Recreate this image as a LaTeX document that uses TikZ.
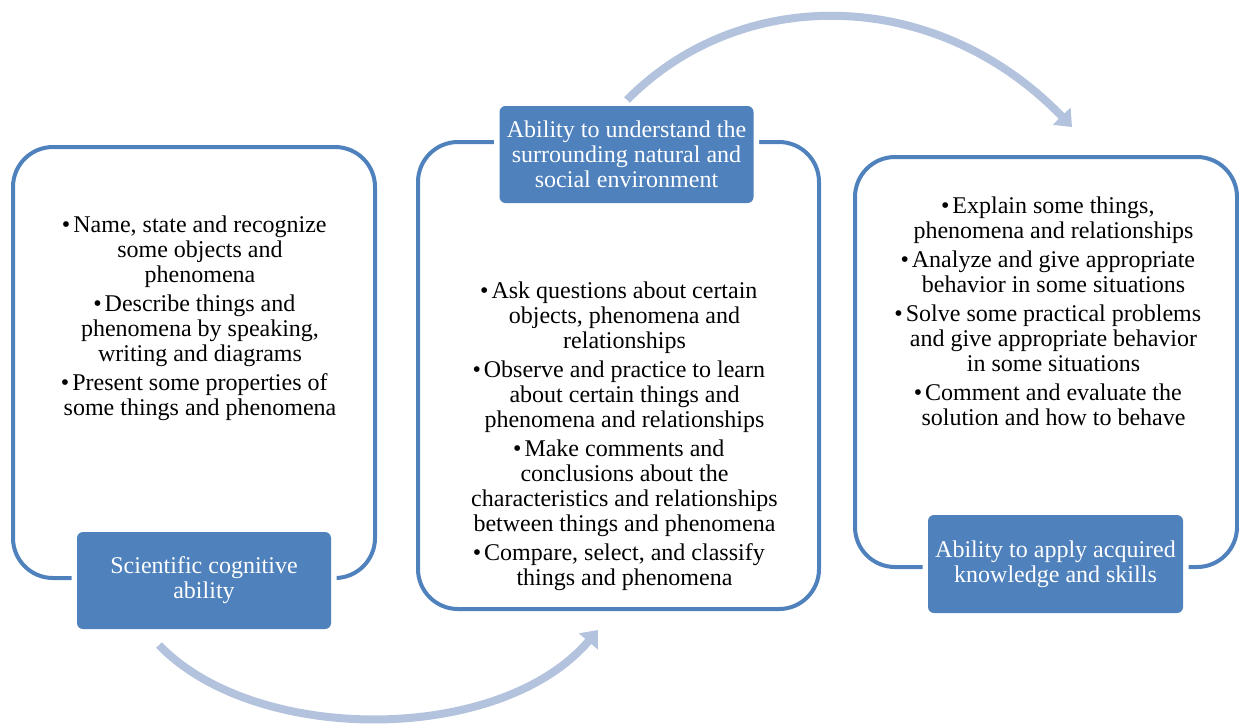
\documentclass[tikz,border=0pt]{standalone}
\usepackage{fontspec}
\setmainfont{Liberation Serif}
\usetikzlibrary{arrows.meta}

\definecolor{accent}{HTML}{4F81BD}
\definecolor{flowblue}{HTML}{B3C3DE}

\newcommand{\itm}{\llap{•\hspace{3pt}}}

\begin{document}
\begin{tikzpicture}[x=1pt,y=-1pt,
  panel/.style={draw=accent, line width=4pt, rounded corners=40pt, inner sep=0pt},
  caption/.style={fill=accent, rounded corners=6pt, text=white, align=center,
    inner sep=0pt, minimum width=254pt, minimum height=97pt,
    font=\fontsize{24}{25}\selectfont,
    preaction={draw=white, line width=11pt}},
  body/.style={anchor=north, align=center, inner sep=0pt,
    font=\fontsize{24}{25}\selectfont},
  flow/.style={draw=flowblue, line width=8pt,
    -{Triangle[width=24pt,length=15pt]}}]

\useasboundingbox (0,0) rectangle (1239,724);

% outlined panels
\node[panel, minimum width=362pt, minimum height=431pt] (p1) at (194,362.5) {};
\node[panel, minimum width=401pt, minimum height=467pt] (p2) at (618.5,375.5) {};
\node[panel, minimum width=382pt, minimum height=410pt] (p3) at (1046,362) {};

% panel contents
\node[body] (t1) at (200,214) {\rule{0pt}{18pt}\itm Name, state and recognize\\
  some objects and\\ phenomena\\[4pt]
  \itm Describe things and\\ phenomena by speaking,\\ writing and diagrams\\[4pt]
  \itm Present some properties of\\ some things and phenomena};

\node[body] (t2) at (624.5,280) {\rule{0pt}{18pt}\itm Ask questions about certain\\
  objects, phenomena and\\ relationships\\[4pt]
  \itm Observe and practice to learn\\ about certain things and\\
  phenomena and relationships\\[4pt]
  \itm Make comments and\\ conclusions about the\\
  characteristics and relationships\\ between things and phenomena\\[4pt]
  \itm Compare, select, and classify\\ things and phenomena};

\node[body] (t3) at (1053.5,195) {\rule{0pt}{18pt}\itm Explain some things,\\
  phenomena and relationships\\[4pt]
  \itm Analyze and give appropriate\\ behavior in some situations\\[4pt]
  \itm Solve some practical problems\\ and give appropriate behavior\\
  in some situations\\[4pt]
  \itm Comment and evaluate the\\ solution and how to behave};

% captions sitting on the panel borders
\node[caption] (c1) at (204,580.5) {Scientific cognitive\\ ability};
\node[caption] (c2) at (626.5,154.5) {Ability to understand the\\
  surrounding natural and\\ social environment};
\node[caption, minimum width=255pt, minimum height=98pt] (c3) at (1055.5,564)
  {Ability to apply acquired\\ knowledge and skills};

% curved flow arrows
\coordinate (f1s) at (159,645);
\coordinate (f1e) at (598,630);
\coordinate (f2s) at (627,100);
\coordinate (f2e) at (1072,127);
\draw[flow] (f1s) .. controls (255,745) and (500,745) .. (f1e);
\draw[flow] (f2s) .. controls (740,-15) and (935,-15) .. (f2e);

\end{tikzpicture}
\end{document}
